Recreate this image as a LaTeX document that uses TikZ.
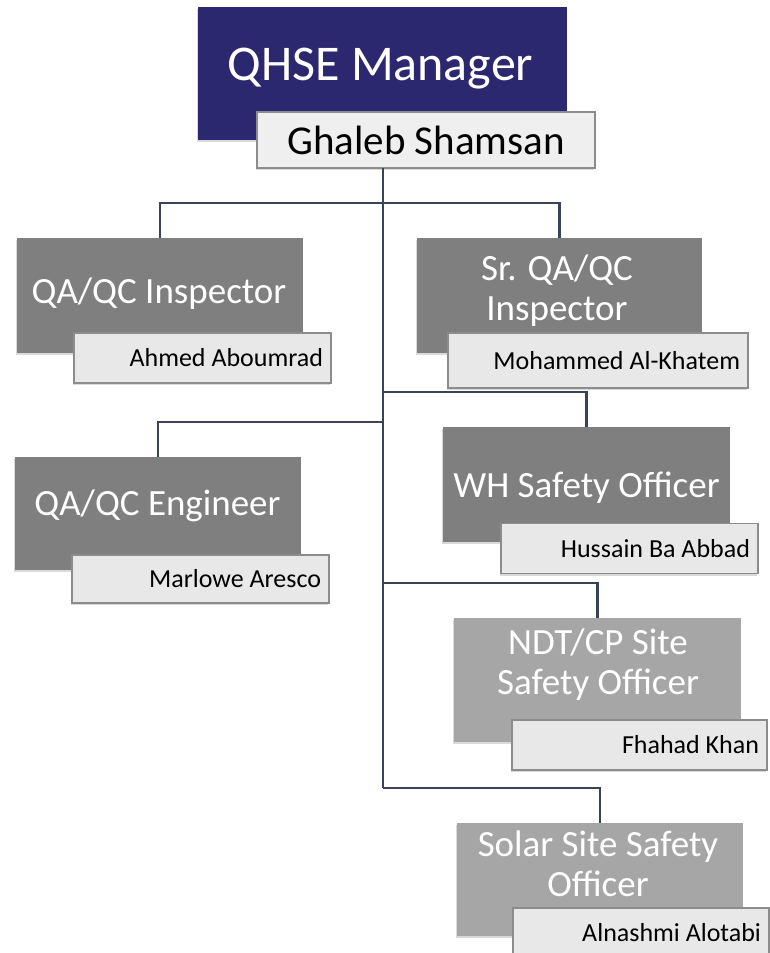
\documentclass[tikz,border=0pt]{standalone}
\usepackage{fontspec}
\setmainfont{Carlito}
\usetikzlibrary{shadows}
\definecolor{navy}{RGB}{44,40,112}
\definecolor{rolegray}{RGB}{127,127,127}
\definecolor{rolelight}{RGB}{166,166,166}
\definecolor{namefill}{RGB}{232,232,232}
\definecolor{nameline}{RGB}{140,140,140}
\definecolor{linkcol}{RGB}{58,66,86}
\tikzstyle{box}=[inner sep=0, outer sep=0,
                 % Soft shadow under every box.
                 drop shadow={shadow xshift=-1.5pt, shadow yshift=-2pt, opacity=0.3}]
\tikzstyle{role}=[box, fill=rolegray, minimum width=286pt, minimum height=115pt]
\tikzstyle{title}=[inner sep=0, text=white, align=center, font=\fontsize{37}{40}\selectfont]
\tikzstyle{person}=[box, fill=namefill, draw=nameline, line width=1.2pt, minimum height=50pt,
                    text width=241pt, inner xsep=8pt, align=flush right, font=\fontsize{26}{28}\selectfont]
\tikzstyle{link}=[draw=linkcol, line width=2.8pt]
\begin{document}
\begin{tikzpicture}[x=1pt, y=-1pt]
    \useasboundingbox (0,0) rectangle (769,953);
    % Manager
    \node[box, fill=navy, minimum width=369pt, minimum height=133pt] (qhse) at (382.5,73.5) {};
    \node[title, anchor=base, font=\fontsize{50}{54}\selectfont] (qhset) at (380.5,80) {QHSE Manager};
    \node[box, fill=namefill!70!white, draw=nameline, line width=1.2pt, minimum width=338pt,
          minimum height=56pt, font=\fontsize{41}{44}\selectfont] (ghaleb) at (426,140) {Ghaleb Shamsan};
    % Junctions on the trunk
    \coordinate (j1) at (383,203);
    \coordinate (j2r) at (383,392);
    \coordinate (j2l) at (383,422);
    \coordinate (j3) at (383,583);
    \coordinate (j4) at (383,788);
    % Roles
    \node[role] (qai) at (160,295.5) {};
    \node[title, anchor=base] (qait) at (159,303) {QA/QC Inspector};
    \node[role, minimum width=285pt] (sqai) at (559.5,295.5) {};
    \node[title] (sqait) at (557,291) {Sr. QA/QC\\Inspector};
    \node[role, minimum height=113pt] (qae) at (158,513.5) {};
    \node[title, anchor=base] (qaet) at (157.5,515) {QA/QC Engineer};
    \node[role, minimum width=287pt] (wh) at (586.5,484.5) {};
    \node[title, anchor=base] (wht) at (586.5,497) {WH Safety Officer};
    \node[role, fill=rolelight, minimum width=287pt, minimum height=124pt] (ndt) at (597.5,680) {};
    \node[title] (ndtt) at (598,665) {NDT/CP Site\\Safety Officer};
    \node[role, fill=rolelight, minimum height=113pt] (solar) at (600,879.5) {};
    \node[title] (solart) at (598,864) {Solar Site Safety\\Officer};
    % Names
    \node[person] (qain) at (202.5,358) {Ahmed Aboumrad};
    \node[person, text width=284pt, minimum height=55pt] (sqain) at (598,360.5) {Mohammed Al-Khatem};
    \node[person, minimum height=48pt] (qaen) at (200.5,579) {Marlowe Aresco};
    \node[person] (whn) at (629.5,548.5) {Hussain Ba Abbad};
    \node[person, text width=239pt] (ndtn) at (639.5,745) {Fhahad Khan};
    \node[person, text width=240pt] (solarn) at (641,933) {Alnashmi Alotabi};
    % Connectors
    \draw[link] (ghaleb.south -| j1) -- (j4);
    \draw[link] (qai.north) |- (j1) -| (sqai.north);
    \draw[link] (qae.north) |- (j2l);
    \draw[link] (j2r) -| (wh.north);
    \draw[link] (j3) -| (ndt.north);
    \draw[link] (j4) -| (solar.north);
\end{tikzpicture}
\end{document}
